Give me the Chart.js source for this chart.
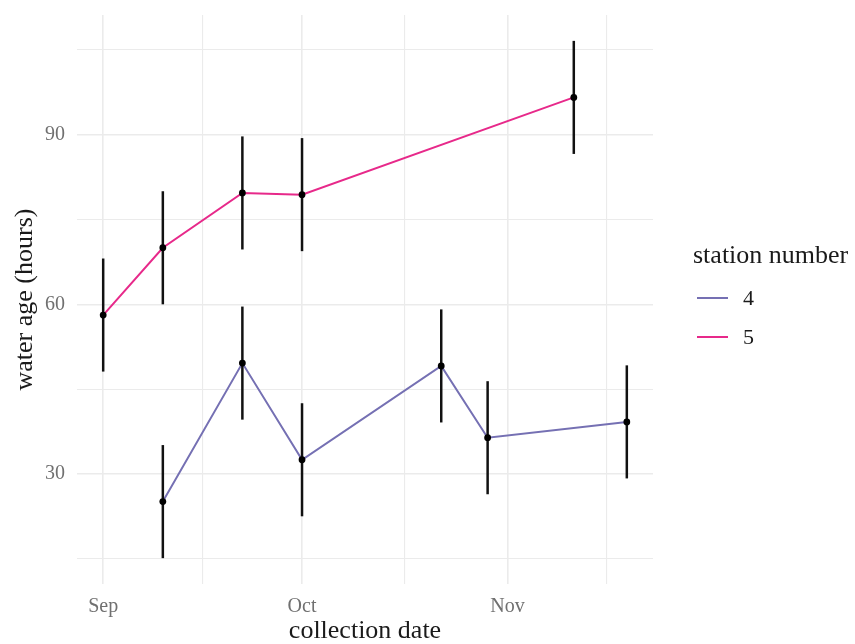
<!DOCTYPE html>
<html lang="en">
<head>
    <meta charset="UTF-8">
    <title>Water age by collection date</title>
    <style>
        body {
            margin: 0;
            background: #fff;
        }
        .wrap {
            position: relative;
            width: 855px;
            height: 644px;
            font-family: 'Liberation Serif', serif;
        }
        .lg-title {
            position: absolute;
            left: 693px;
            top: 242px;
            font-size: 26px;
            line-height: 26px;
            color: #1a1a1a;
            white-space: nowrap;
        }
        .lg-key {
            position: absolute;
            left: 697px;
            width: 31px;
            height: 2px;
        }
        .lg-label {
            position: absolute;
            left: 743px;
            font-size: 22px;
            line-height: 22px;
            color: #1a1a1a;
        }
    </style>
</head>
<body>
    <div class="wrap">
        <canvas id="chart" width="855" height="644"></canvas>
        <div id="legend"></div>
    </div>

    <script src="https://cdn.jsdelivr.net/npm/chart.js"></script>
    <script>
        // station 4
        const station4Dates = ['2019-09-10', '2019-09-22', '2019-10-01', '2019-10-22', '2019-10-29', '2019-11-19'];
        const station4Age = [25.1, 49.6, 32.5, 49.1, 36.4, 39.2];
        const station4Err = [10, 10, 10, 10, 10, 10];

        // station 5
        const station5Dates = ['2019-09-01', '2019-09-10', '2019-09-22', '2019-10-01', '2019-11-11'];
        const station5Age = [58.1, 70.0, 79.7, 79.4, 96.6];
        const station5Err = [10, 10, 10, 10, 10];

        // axis breaks
        const monthBreaks = ['2019-09-01', '2019-10-01', '2019-11-01', '2019-12-01'];
        const monthLabels = ['Sep', 'Oct', 'Nov', 'Dec'];
        const yBreaks = [30, 60, 90];

        const colors = { '4': '#7570B3', '5': '#E7298A' };
        const serif = "'Liberation Serif', 'DejaVu Serif', serif";

        const dayOf = s => (Date.parse(s + 'T00:00:00Z') - Date.parse(monthBreaks[0] + 'T00:00:00Z')) / 864e5;

        function points(dates, ages, errs) {
            return dates.map((d, i) => ({ x: dayOf(d), y: ages[i], err: errs[i] }));
        }

        const s4 = points(station4Dates, station4Age, station4Err);
        const s5 = points(station5Dates, station5Age, station5Err);

        // ggplot-like 5% expansion of the data range
        const allX = s4.concat(s5).map(p => p.x);
        const allLo = s4.concat(s5).map(p => p.y - p.err);
        const allHi = s4.concat(s5).map(p => p.y + p.err);
        const xMin = Math.min(...allX), xMax = Math.max(...allX);
        const yMin = Math.min(...allLo), yMax = Math.max(...allHi);
        const xPad = (xMax - xMin) * 0.05, yPad = (yMax - yMin) * 0.05;
        const xLo = xMin - xPad, xHi = xMax + xPad;
        const yLo = yMin - yPad, yHi = yMax + yPad;

        // major + minor breaks (minor = midpoints), kept inside the panel
        const xMajor = monthBreaks.map(dayOf);
        let xTicks = [];
        xMajor.forEach((v, i) => {
            xTicks.push({ value: v, major: true, label: monthLabels[i] });
            if (i < xMajor.length - 1) xTicks.push({ value: (v + xMajor[i + 1]) / 2, major: false, label: '' });
        });
        xTicks = xTicks.filter(t => t.value >= xLo && t.value <= xHi);

        const yStep = yBreaks[1] - yBreaks[0];
        let yTicks = [];
        for (let v = yBreaks[0] - yStep; v <= yBreaks[yBreaks.length - 1] + yStep; v += yStep / 2) {
            yTicks.push({ value: v, major: yBreaks.includes(v), label: yBreaks.includes(v) ? String(v) : '' });
        }
        yTicks = yTicks.filter(t => t.value >= yLo && t.value <= yHi);

        const errorBars = {
            id: 'errorBars',
            beforeDatasetDraw(chart, args) {
                const ds = chart.data.datasets[args.index];
                if (!ds.errorBars) return;
                const { ctx, chartArea, scales: { x, y } } = chart;
                ctx.save();
                ctx.beginPath();
                ctx.rect(chartArea.left, chartArea.top, chartArea.right - chartArea.left, chartArea.bottom - chartArea.top);
                ctx.clip();
                ctx.strokeStyle = '#111';
                ctx.lineWidth = 2.5;
                ds.data.forEach(p => {
                    const px = x.getPixelForValue(p.x);
                    ctx.beginPath();
                    ctx.moveTo(px, y.getPixelForValue(p.y - p.err));
                    ctx.lineTo(px, y.getPixelForValue(p.y + p.err));
                    ctx.stroke();
                });
                ctx.restore();
            }
        };

        const gridWidth = ctx => (ctx.tick && ctx.tick.major ? 1.6 : 1.1);
        const noPad = scale => {
            scale.paddingTop = 0;
            scale.paddingBottom = 0;
            scale.paddingLeft = 0;
            scale.paddingRight = 0;
        };

        new Chart(document.getElementById('chart'), {
            type: 'line',
            data: {
                datasets: [
                    { label: '4', data: s4, borderColor: colors['4'], borderWidth: 2, pointRadius: 0, order: 3 },
                    { label: '5', data: s5, borderColor: colors['5'], borderWidth: 2, pointRadius: 0, order: 3 },
                    { type: 'scatter', data: s4, errorBars: true, showLine: false, pointRadius: 3.4, pointBackgroundColor: '#000', pointBorderWidth: 0, order: 1 },
                    { type: 'scatter', data: s5, errorBars: true, showLine: false, pointRadius: 3.4, pointBackgroundColor: '#000', pointBorderWidth: 0, order: 1 }
                ]
            },
            options: {
                responsive: false,
                animation: false,
                layout: { padding: { top: 15, right: 202, left: 0, bottom: 0 } },
                plugins: { legend: { display: false }, tooltip: { enabled: false } },
                scales: {
                    x: {
                        type: 'linear',
                        min: xLo,
                        max: xHi,
                        afterBuildTicks: scale => { scale.ticks = xTicks.map(t => ({ value: t.value, major: t.major })); },
                        afterFit: scale => { scale.height = 60; noPad(scale); },
                        ticks: {
                            autoSkip: false,
                            maxRotation: 0,
                            padding: 11,
                            color: '#707070',
                            font: { family: serif, size: 20 },
                            callback: (v, i) => xTicks[i].label
                        },
                        grid: { color: '#ebebeb', lineWidth: gridWidth, drawTicks: false },
                        border: { display: false },
                        title: {
                            display: true,
                            text: 'collection date',
                            color: '#1a1a1a',
                            font: { family: serif, size: 26, lineHeight: 1 },
                            padding: { top: 0, bottom: 0 }
                        }
                    },
                    y: {
                        min: yLo,
                        max: yHi,
                        afterBuildTicks: scale => { scale.ticks = yTicks.map(t => ({ value: t.value, major: t.major })); },
                        afterFit: scale => { scale.width = 77; noPad(scale); },
                        ticks: {
                            autoSkip: false,
                            padding: 12,
                            color: '#707070',
                            font: { family: serif, size: 20 },
                            callback: (v, i) => yTicks[i].label
                        },
                        grid: { color: '#ebebeb', lineWidth: gridWidth, drawTicks: false },
                        border: { display: false },
                        title: {
                            display: true,
                            text: 'water age (hours)',
                            color: '#1a1a1a',
                            font: { family: serif, size: 26, lineHeight: 1 },
                            padding: { top: 12, bottom: 0 }
                        }
                    }
                }
            },
            plugins: [errorBars]
        });

        // legend
        const legend = document.getElementById('legend');
        let html = '<div class="lg-title">station number</div>';
        ['4', '5'].forEach((name, i) => {
            const cy = 298 + i * 39;
            html += `<div class="lg-key" style="top:${cy - 1}px;background:${colors[name]}"></div>`;
            html += `<div class="lg-label" style="top:${cy - 11}px">${name}</div>`;
        });
        legend.innerHTML = html;
    </script>
</body>
</html>
